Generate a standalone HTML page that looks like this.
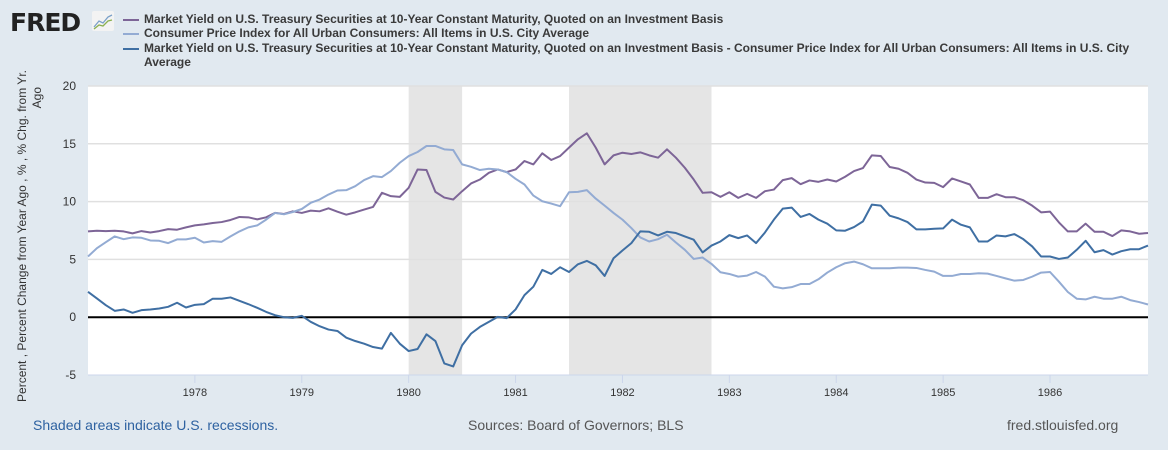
<!DOCTYPE html>
<html><head><meta charset="utf-8"><style>
body{margin:0;width:1168px;height:450px;background:#e1e9f0;font-family:"Liberation Sans",sans-serif;overflow:hidden;position:relative}
.lg{position:absolute;left:144px;font-size:12px;font-weight:bold;color:#3a3a3a;line-height:14px;white-space:nowrap}
.sw{position:absolute;left:123px;width:16px;height:2px}
.ft{position:absolute;top:417px;font-size:14px}
</style></head><body>
<div style="position:absolute;left:10px;top:8px;font-size:25px;font-weight:900;color:#222;letter-spacing:-1px;font-family:'DejaVu Sans',sans-serif">FRED</div>
<svg style="position:absolute;left:92px;top:11px" width="22" height="20"><rect width="22" height="20" rx="2" fill="#f3f3f3"/><polyline points="2,16 7,10 11,12 16,6 20,4" fill="none" stroke="#7aa0c8" stroke-width="1.3"/><polyline points="2,18 7,14 11,15 16,10 20,9" fill="none" stroke="#8bb050" stroke-width="1.3"/></svg>
<div class="sw" style="top:19px;background:#7d6597"></div>
<div class="lg" style="top:12px">Market Yield on U.S. Treasury Securities at 10-Year Constant Maturity, Quoted on an Investment Basis</div>
<div class="sw" style="top:33px;background:#93abd3"></div>
<div class="lg" style="top:26px">Consumer Price Index for All Urban Consumers: All Items in U.S. City Average</div>
<div class="sw" style="top:48px;background:#3f6fa3"></div>
<div class="lg" style="top:41px">Market Yield on U.S. Treasury Securities at 10-Year Constant Maturity, Quoted on an Investment Basis - Consumer Price Index for All Urban Consumers: All Items in U.S. City<br>Average</div>
<svg id="chart" width="1168" height="450" style="position:absolute;left:0;top:0"></svg>
<div class="ft" style="left:33px;color:#2e62a1">Shaded areas indicate U.S. recessions.</div>
<div class="ft" style="left:468px;color:#555">Sources: Board of Governors; BLS</div>
<div class="ft" style="left:1007px;color:#555">fred.stlouisfed.org</div>
<script>
const yieldVals=[7.42,7.48,7.45,7.48,7.42,7.25,7.45,7.33,7.45,7.62,7.57,7.77,7.94,8.03,8.15,8.23,8.41,8.67,8.64,8.46,8.64,9.02,8.93,9.16,9.02,9.22,9.16,9.42,9.13,8.87,9.07,9.31,9.54,10.76,10.47,10.41,11.19,12.78,12.73,10.84,10.35,10.18,10.90,11.57,11.91,12.49,12.78,12.55,12.78,13.51,13.22,14.18,13.60,13.94,14.67,15.39,15.91,14.67,13.22,14.0,14.23,14.12,14.26,14.0,13.80,14.52,13.80,12.93,11.91,10.76,10.81,10.41,10.81,10.32,10.67,10.32,10.90,11.04,11.86,12.03,11.51,11.83,11.71,11.91,11.74,12.15,12.64,12.90,14.0,13.94,12.99,12.84,12.49,11.91,11.65,11.62,11.25,12.0,11.74,11.48,10.32,10.32,10.64,10.38,10.38,10.12,9.65,9.07,9.13,8.20,7.42,7.42,8.09,7.39,7.39,7.02,7.51,7.42,7.22,7.28];
const cpiVals=[5.25,5.97,6.49,6.99,6.75,6.90,6.87,6.64,6.61,6.41,6.73,6.73,6.87,6.46,6.58,6.52,6.99,7.42,7.77,7.94,8.44,9.02,8.90,9.10,9.36,9.89,10.18,10.61,10.96,10.99,11.33,11.86,12.20,12.12,12.64,13.36,13.94,14.29,14.81,14.81,14.52,14.46,13.22,13.01,12.73,12.84,12.78,12.55,11.97,11.48,10.52,10.03,9.83,9.60,10.81,10.84,10.99,10.26,9.65,9.02,8.44,7.71,6.90,6.55,6.75,7.13,6.46,5.83,5.04,5.16,4.61,3.89,3.74,3.51,3.60,3.91,3.51,2.64,2.49,2.60,2.87,2.87,3.28,3.86,4.32,4.67,4.81,4.58,4.23,4.23,4.23,4.29,4.29,4.26,4.09,3.94,3.57,3.57,3.74,3.74,3.80,3.77,3.57,3.36,3.16,3.22,3.51,3.86,3.91,3.07,2.18,1.60,1.54,1.77,1.60,1.60,1.77,1.48,1.31,1.10];
const diffVals=[2.20,1.62,1.04,0.55,0.67,0.38,0.61,0.67,0.75,0.90,1.25,0.84,1.07,1.13,1.60,1.60,1.71,1.42,1.13,0.81,0.46,0.17,0.0,-0.06,0.12,-0.40,-0.78,-1.07,-1.19,-1.77,-2.06,-2.29,-2.58,-2.72,-1.36,-2.29,-2.93,-2.75,-1.48,-2.06,-4.0,-4.26,-2.43,-1.42,-0.84,-0.40,0.03,-0.08,0.67,1.91,2.64,4.09,3.74,4.32,3.91,4.58,4.87,4.49,3.57,5.10,5.77,6.41,7.42,7.39,7.07,7.39,7.28,6.99,6.70,5.60,6.20,6.55,7.10,6.84,7.07,6.41,7.33,8.44,9.39,9.48,8.67,8.93,8.44,8.09,7.51,7.48,7.80,8.29,9.74,9.65,8.78,8.55,8.23,7.60,7.60,7.65,7.68,8.44,8.0,7.77,6.55,6.55,7.07,6.99,7.19,6.75,6.12,5.25,5.25,5.04,5.16,5.83,6.61,5.62,5.80,5.42,5.71,5.88,5.88,6.20];
const recessions=[[36,42],[54,70]];
const yTicks=[-5,0,5,10,15,20];
const xYears=[1978,1979,1980,1981,1982,1983,1984,1985,1986];
const X0=88,X1=1148,YT=86,YB=375,VMIN=-5,VMAX=20,N=120;
const xs=m=>X0+(X1-X0)*m/(N-1);
const ys=v=>YB-(v-VMIN)*(YB-YT)/(VMAX-VMIN);
const svg=document.getElementById('chart');
const NS='http://www.w3.org/2000/svg';
function mk(t,a){const e=document.createElementNS(NS,t);for(const k in a)e.setAttribute(k,a[k]);svg.appendChild(e);return e;}
let e=mk('rect',{x:X0,y:YT,width:X1-X0,height:YB-YT,fill:'#fff'});


recessions.forEach(r=>{const el=mk('rect',{x:xs(r[0]),y:YT,width:xs(r[1])-xs(r[0]),height:YB-YT,fill:'#e5e5e5'});

});
yTicks.forEach(v=>{if(v!==VMIN&&v!==0){const g=mk('line',{x1:X0,x2:X1,y1:ys(v),y2:ys(v),stroke:'#e0e0e0','stroke-width':1.5});

}
const t=mk('text',{x:76,y:ys(v)+4,'text-anchor':'end','font-size':12,fill:'#333','font-family':'Liberation Sans'});t.textContent=v;

});
e=mk('line',{x1:X0,x2:X1,y1:YB,y2:YB,stroke:'#ccd6eb','stroke-width':1});


xYears.forEach(y=>{const m=(y-1977)*12;const x=xs(m);
const tk=mk('line',{x1:x,x2:x,y1:YB,y2:YB+8,stroke:'#ccd6eb'});


const t=mk('text',{x:x,y:396,'text-anchor':'middle','font-size':11,fill:'#333','font-family':'Liberation Sans'});t.textContent=y;

});
e=mk('line',{x1:X0,x2:X1,y1:ys(0),y2:ys(0),stroke:'#000','stroke-width':2});


function series(vals,col,name){const p=mk('polyline',{points:vals.map((v,i)=>xs(i)+','+ys(v)).join(' '),fill:'none',stroke:col,'stroke-width':2,'stroke-linejoin':'round'});

}
series(yieldVals,'#7d6597','yield-line');
series(cpiVals,'#93abd3','cpi-line');
series(diffVals,'#3f6fa3','diff-line');
const yt=mk('text',{transform:'translate(26,236) rotate(-90)','text-anchor':'middle','font-size':12,fill:'#333','font-family':'Liberation Sans'});
yt.textContent='Percent , Percent Change from Year Ago , % , % Chg. from Yr.';


const yt2=mk('text',{transform:'translate(41,87) rotate(-90)','text-anchor':'end','font-size':12,fill:'#333','font-family':'Liberation Sans'});
yt2.textContent='Ago';


</script>
</body></html>
